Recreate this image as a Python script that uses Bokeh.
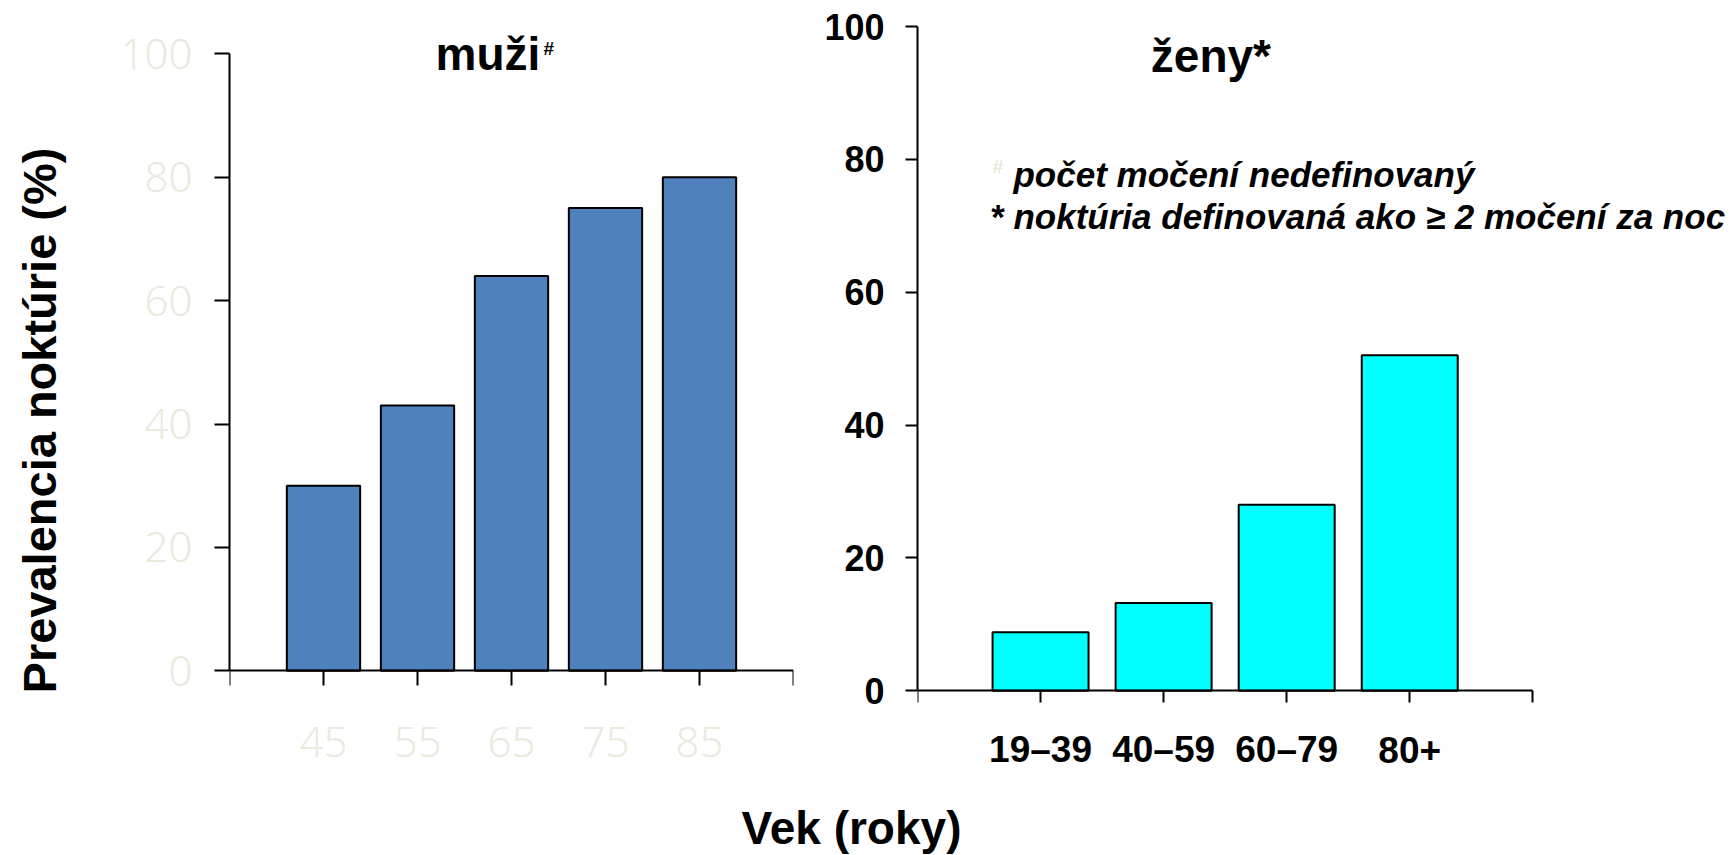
import math
from bokeh.plotting import figure
from bokeh.layouts import column, row
from bokeh.models import FixedTicker, Label, Range1d
from bokeh.core.properties import value
from bokeh.embed import file_html
from bokeh.resources import INLINE

# ---------------- data ----------------
men_age = [45, 55, 65, 75, 85]
men_prev = [30, 43, 64, 75, 80]
women_age = ["19–39", "40–59", "60–79", "80+"]
women_prev = [8.8, 13.2, 28, 50.5]
y_ticks = [0, 20, 40, 60, 80, 100]

title_men = "muži"
title_women = "ženy*"
note_1 = "počet močení nedefinovaný"
note_2 = "noktúria definovaná ako ≥ 2 močení za noc"
y_label = "Prevalencia noktúrie (%)"
x_label = "Vek (roky)"

BOLD = "Liberation Sans"
LIGHT = "Open Sans Light, Lato Light, Open Sans, sans-serif"
BEIGE = "#ebe8dc"
MEN_COLOR = "#4f81bd"
WOMEN_COLOR = "#00ffff"

ROW_H = 800
BOTTOM = 20                 # common bottom border -> frames end at y = 780
FRAME_H = ROW_H - BOTTOM


def base_fig(w, h, l, r, t, b, xr, yr):
    p = figure(width=w, height=h, x_range=xr, y_range=yr,
               output_backend="svg", toolbar_location=None,
               min_border_left=l, min_border_right=r,
               min_border_top=t, min_border_bottom=b)
    p.outline_line_color = None
    p.xgrid.visible = False
    p.ygrid.visible = False
    p.background_fill_color = "white"
    p.border_fill_color = "white"
    return p


def style_axes(p, tick_out, font, size, color, style, ystand, xticks):
    for ax in (p.xaxis[0], p.yaxis[0]):
        ax.axis_line_width = 2
        ax.axis_line_color = "black"
        ax.major_tick_line_width = 2
        ax.major_tick_line_color = "black"
        ax.major_tick_out = tick_out
        ax.major_tick_in = 0
        ax.minor_tick_line_color = None
        ax.major_label_text_font = font
        ax.major_label_text_font_size = size
        ax.major_label_text_color = color
        ax.major_label_text_font_style = style
    p.yaxis[0].major_label_standoff = ystand
    p.yaxis[0].ticker = FixedTicker(ticks=y_ticks)
    p.yaxis[0].bounds = (0, 100)
    # x axis: tick marks only (category names are drawn as text glyphs)
    xa = p.xaxis[0]
    xa.ticker = FixedTicker(ticks=[], minor_ticks=xticks)
    xa.major_tick_out = 0
    xa.minor_tick_out = tick_out
    xa.minor_tick_in = 0
    xa.minor_tick_line_width = 2
    xa.minor_tick_line_color = "black"
    xa.major_label_standoff = 0
    xa.fixed_location = 0


def txt(x, y, s, size, style="bold", color="black", align="left",
        baseline="middle", angle=0.0):
    return Label(x=x, y=y, text=s, text_font=BOLD, text_font_style=style,
                 text_font_size=size, text_color=color, text_align=align,
                 text_baseline=baseline, angle=angle)


# ---------------- y label strip ----------------
pyl = base_fig(80, ROW_H, 0, 0, 0, BOTTOM, Range1d(0, 80), Range1d(0, FRAME_H))
pyl.xaxis.visible = False
pyl.yaxis.visible = False
pyl.add_layout(txt(38.7, FRAME_H - 420, y_label, "47px", align="center",
                   angle=math.pi / 2))

# ---------------- left chart: men ----------------
step_m = men_age[1] - men_age[0]
xl0, xl1 = men_age[0] - step_m, men_age[-1] + step_m
y0_l, y100_l = 670.3, 53.3
ppu_l = (y0_l - y100_l) / 100.0
pl = base_fig(732, ROW_H, 149, 19, 0, BOTTOM, Range1d(xl0, xl1),
              Range1d(-(FRAME_H - y0_l) / ppu_l, 100 + y100_l / ppu_l))
pl.vbar(x=men_age, top=men_prev, bottom=0, width=0.78 * step_m,
        fill_color=MEN_COLOR, line_color="black", line_width=2)
style_axes(pl, 15, LIGHT, "42px", BEIGE, "normal", 22,
           [xl0] + men_age + [xl1])
pl.text(x=men_age, y=[-(741.5 - y0_l) / ppu_l] * len(men_age),
        text=[str(a) for a in men_age], text_font=value(LIGHT),
        text_font_size=value("42px"), text_color=BEIGE,
        text_align="center", text_baseline="middle")

pl.add_layout(txt(62.5, (y0_l - 53.0) / ppu_l, title_men, "46px", align="center"))
pl.add_layout(txt(68.4, (y0_l - 47.5) / ppu_l, "#", "19px"))

# ---------------- right chart: women ----------------
nw = len(women_age)
wx = list(range(1, nw + 1))
y0_r, y100_r = 690.3, 26.0
ppx_r = (1532.0 - 916.7) / (nw + 1)          # px per category step
ppu_r = (y0_r - y100_r) / 100.0
pr_w = 1733 - 812
pr = base_fig(pr_w, ROW_H, 105, 0, 0, BOTTOM,
              Range1d(0, (pr_w - 105) / ppx_r),
              Range1d(-(FRAME_H - y0_r) / ppu_r, 100 + y100_r / ppu_r))
pr.vbar(x=wx, top=women_prev, bottom=0, width=0.78,
        fill_color=WOMEN_COLOR, line_color="black", line_width=2)
style_axes(pr, 12, BOLD, "36px", "black", "bold", 21,
           list(range(0, nw + 2)))
pr.xaxis[0].bounds = (0, nw + 1)
pr.text(x=wx, y=[-(749.0 - y0_r) / ppu_r] * nw, text=women_age,
        text_font=value(BOLD), text_font_style="bold",
        text_font_size=value("37px"), text_color="black",
        text_align="center", text_baseline="middle")


def ry(py):
    return (y0_r - py) / ppu_r


pr.add_layout(txt(2.384, ry(55.0), title_women, "46px", align="center"))
pr.add_layout(txt(0.61, ry(166.0), "#", "19px", style="bold italic", color=BEIGE))
pr.add_layout(txt(0.78, ry(173.5), note_1, "35px", style="bold italic"))
pr.add_layout(txt(0.60, ry(215.5), "*", "35px"))
pr.add_layout(txt(0.78, ry(215.5), note_2, "35px", style="bold italic"))

# ---------------- bottom: shared x label ----------------
pb_h = 855 - ROW_H
pb = base_fig(1733, pb_h, 0, 0, 0, 0, Range1d(0, 1733), Range1d(0, pb_h))
pb.xaxis.visible = False
pb.yaxis.visible = False
pb.add_layout(txt(851, 855 - 827, x_label, "46px", align="center"))

layout = column(row(pyl, pl, pr), pb)
open("out.html", "w").write(file_html(layout, INLINE))
